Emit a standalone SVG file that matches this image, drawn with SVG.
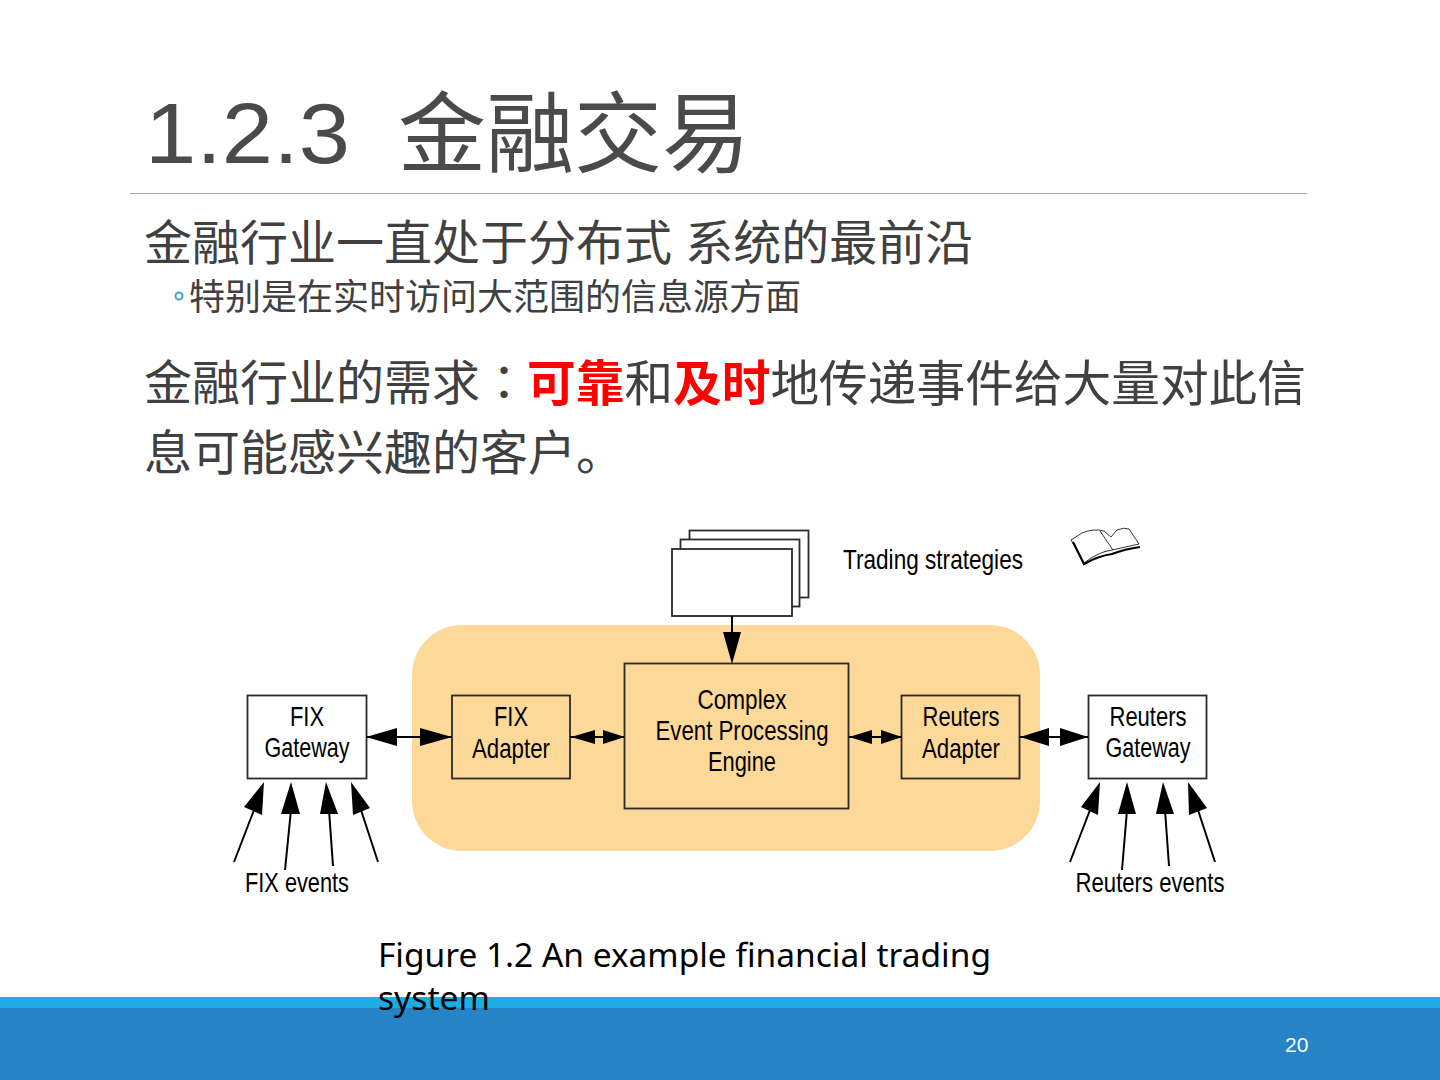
<svg xmlns="http://www.w3.org/2000/svg" width="1440" height="1080" viewBox="0 0 1440 1080">
<style>
.cjk{font-family:"Liberation Sans","Noto Sans CJK SC",sans-serif;fill:#404040}
.red{fill:#ff0000;font-weight:700}
.lab{font-family:"Liberation Sans",sans-serif;font-size:28px;fill:#000;text-anchor:middle}
.box{stroke:#2a2a2a;stroke-width:1.800}
.w{fill:#fff}
.o{fill:#fdd999}
.line{stroke:#000;stroke-width:2;fill:none}
.head{fill:#000;stroke:none}
</style>
<rect width="1440" height="1080" fill="#fff"/>
<g id="footer"><rect x="0" y="997" width="1440" height="83" fill="#2583c6"/><rect x="0" y="997" width="1440" height="11" fill="#1cade4"/>
<text x="1285" y="1052" font-family="'Liberation Sans',sans-serif" font-size="21" fill="#fff">20</text></g>
<g id="title">
<text x="145" y="163" font-family="'Liberation Sans',sans-serif" font-size="86" fill="#4a4a4a" textLength="205" lengthAdjust="spacingAndGlyphs">1.2.3</text>
<text class="cjk" x="398" y="165" font-size="88" style="fill:#4a4a4a">金融交易</text>
</g>
<line x1="130" y1="193.500" x2="1307" y2="193.500" stroke="#a6a6a6" stroke-width="1"/>
<text class="cjk" x="144" y="260" font-size="48">金融行业一直处于分布式 系统的最前沿</text>
<circle cx="179" cy="296" r="3.500" fill="none" stroke="#3fa9d0" stroke-width="2"/>
<text class="cjk" x="189" y="310" font-size="36">特别是在实时访问大范围的信息源方面</text>
<text class="cjk" x="144" y="400" font-size="48">金融行业的需求<tspan font-family="'Noto Sans CJK TC',sans-serif">：</tspan></text>
<text class="cjk" x="527" y="401" font-size="48.700"><tspan class="red">可靠</tspan>和<tspan class="red">及时</tspan>地传递事件给大量对此信</text>
<text class="cjk" x="144" y="470" font-size="48">息可能感兴趣的客户。</text>

<g id="container"><rect x="412" y="625" width="628" height="226" rx="50" class="o"/></g>

<g id="strategies">
<rect x="689.500" y="530.500" width="119" height="67" class="box w"/>
<rect x="680.500" y="539.500" width="119" height="67" class="box w"/>
<rect x="672" y="549" width="120" height="67" class="box w"/>
<text x="933" y="569" class="lab" textLength="180" lengthAdjust="spacingAndGlyphs">Trading strategies</text>
</g>
<g id="book" fill="#fff" stroke="#000" stroke-width="0.800">
<path d="M1071 540 L1082 533 Q1094 528 1104 531 L1111 537 L1117 530 Q1124 527 1129 529 L1139 544 L1112 550 Q1098 552 1084 563 Z"/>
<path d="M1100 531 L1113 550"/>
<path d="M1073 542 L1084 564 Q1098 556 1112 554 Q1125 549 1140 547" stroke-width="2.200" fill="none"/>
</g>

<g id="fix-gateway"><rect x="247.500" y="695.500" width="119" height="83" class="box w"/>
<text x="307" y="726" class="lab" textLength="34" lengthAdjust="spacingAndGlyphs">FIX</text>
<text x="307" y="757" class="lab" textLength="85" lengthAdjust="spacingAndGlyphs">Gateway</text></g>
<g id="fix-adapter"><rect x="452" y="695.500" width="118" height="83" class="box o"/>
<text x="511" y="726" class="lab" textLength="34" lengthAdjust="spacingAndGlyphs">FIX</text>
<text x="511" y="758" class="lab" textLength="78" lengthAdjust="spacingAndGlyphs">Adapter</text></g>
<g id="engine"><rect x="624.500" y="663.500" width="224" height="145" class="box o"/>
<text x="742" y="709" class="lab" textLength="89" lengthAdjust="spacingAndGlyphs">Complex</text>
<text x="742" y="740" class="lab" textLength="173" lengthAdjust="spacingAndGlyphs">Event Processing</text>
<text x="742" y="771" class="lab" textLength="68" lengthAdjust="spacingAndGlyphs">Engine</text></g>
<g id="reuters-adapter"><rect x="901.500" y="695.500" width="118" height="83" class="box o"/>
<text x="961" y="726" class="lab" textLength="77" lengthAdjust="spacingAndGlyphs">Reuters</text>
<text x="961" y="758" class="lab" textLength="78" lengthAdjust="spacingAndGlyphs">Adapter</text></g>
<g id="reuters-gateway"><rect x="1088.500" y="695.500" width="118" height="83" class="box w"/>
<text x="1148" y="726" class="lab" textLength="77" lengthAdjust="spacingAndGlyphs">Reuters</text>
<text x="1148" y="757" class="lab" textLength="85" lengthAdjust="spacingAndGlyphs">Gateway</text></g>

<text x="297" y="892" class="lab" textLength="104" lengthAdjust="spacingAndGlyphs">FIX events</text>
<text x="1150" y="892" class="lab" textLength="149" lengthAdjust="spacingAndGlyphs">Reuters events</text>

<g id="connectors">
<path class="line" d="M732 616V640M366 737H452M570 737H624M849 737H902M1020 737H1088"/>
<path class="head" d="M723 632H741L732 664Z"/>
<path class="head" d="M366 737L397 728V746ZM452 737L420 728V746Z"/>
<path class="head" d="M571 737L595 730V744ZM625 737L603 730V744Z"/>
<path class="head" d="M849 737L872 730V744ZM902 737L881 730V744Z"/>
<path class="head" d="M1020 737L1049 728V746ZM1088 737L1060 728V746Z"/>
<path class="line" d="M234 862L254 810M285 870L291 810M333 866L329 810M378 862L361 810"/>
<path class="head" d="M264 782L262 815L244 807ZM291 782L300 814L281 814ZM326 782L338 814L320 814ZM351 782L370 808L353 815Z"/>
<path class="line" d="M1070 862L1090 810M1122 870L1127 810M1169 866L1165 810M1215 862L1198 810"/>
<path class="head" d="M1100 782L1098 815L1081 807ZM1127 782L1136 814L1118 814ZM1163 782L1174 814L1156 814ZM1188 782L1207 808L1189 815Z"/>
</g>

<text x="378" y="967" font-family="'Noto Sans',sans-serif" font-size="33" fill="#000" textLength="613" lengthAdjust="spacingAndGlyphs">Figure 1.2 An example financial trading</text>
<text x="378" y="1010" font-family="'Noto Sans',sans-serif" font-size="33" fill="#000" textLength="112" lengthAdjust="spacingAndGlyphs">system</text>
</svg>
